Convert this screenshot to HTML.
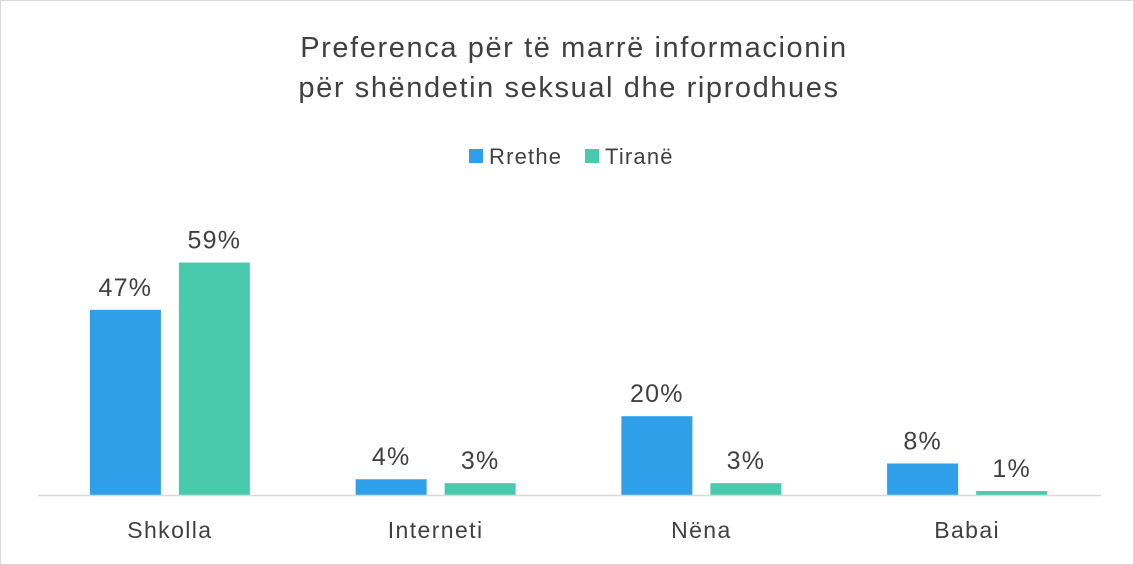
<!DOCTYPE html>
<html><head><meta charset="utf-8"><style>
body{margin:0;background:#fff;}
#c{position:relative;width:1134px;height:565px;overflow:hidden;font-family:"Liberation Sans",sans-serif;border:1px solid #d9d9d9;box-sizing:border-box;}
</style></head><body>
<div id="c">
<svg id="s" width="1134" height="565" xmlns="http://www.w3.org/2000/svg">
<text x="573" y="56" text-anchor="middle" font-size="29" letter-spacing="1.6" fill="#404040">Preferenca për të marrë informacionin</text>
<text x="568" y="96" text-anchor="middle" font-size="29" letter-spacing="1.6" fill="#404040">për shëndetin seksual dhe riprodhues</text>
<g>
<rect x="468" y="148" width="14" height="14" fill="#2E9FE8"/>
<text x="488" y="163" font-size="22" letter-spacing="1.2" fill="#404040">Rrethe</text>
<rect x="584" y="148" width="14" height="14" fill="#4ACAAD"/>
<text x="604" y="163" font-size="22" letter-spacing="1.2" fill="#404040">Tiranë</text>
</g>
<g id="bars"></g>
<line x1="37" y1="494.5" x2="1100" y2="494.5" stroke="#d9d9d9" stroke-width="1.5"/>
</svg>
</div>
<script>
const categories=["Shkolla","Interneti","Nëna","Babai"];
const rretheValues=[47,4,20,8];
const tiraneValues=[59,3,3,1];
const seriesColors=["#2E9FE8","#4ACAAD"];
const NS="http://www.w3.org/2000/svg";
const g=document.getElementById('bars');
const x0=36,x1=1099,base=494,pxPer=3.94,bw=71,gap=18;
const band=(x1-x0)/categories.length;
function xCenter(i){return x0+band*(i+0.5);}
function yScale(v){return base-v*pxPer;}
function mk(tag,attrs){const e=document.createElementNS(NS,tag);for(const k in attrs)e.setAttribute(k,attrs[k]);return e;}
categories.forEach((c,i)=>{
  [rretheValues,tiraneValues].forEach((vals,j)=>{
    const v=vals[i];
    const x=j===0?xCenter(i)-gap/2-bw:xCenter(i)+gap/2;
    const r=mk('rect',{x:x,y:yScale(v),width:bw,height:base-yScale(v),fill:seriesColors[j]});
    
    
    g.appendChild(r);
    const t=mk('text',{x:x+bw/2,y:yScale(v)-14,'text-anchor':'middle','font-size':'25','letter-spacing':'1.2',fill:'#404040'});
    t.textContent=v+'%';
    
    
    g.appendChild(t);
  });
  const l=mk('text',{x:xCenter(i),y:537,'text-anchor':'middle','font-size':'23','letter-spacing':'1.4',fill:'#404040'});
  l.textContent=c;
  
  
  g.appendChild(l);
});
</script>
</body></html>
